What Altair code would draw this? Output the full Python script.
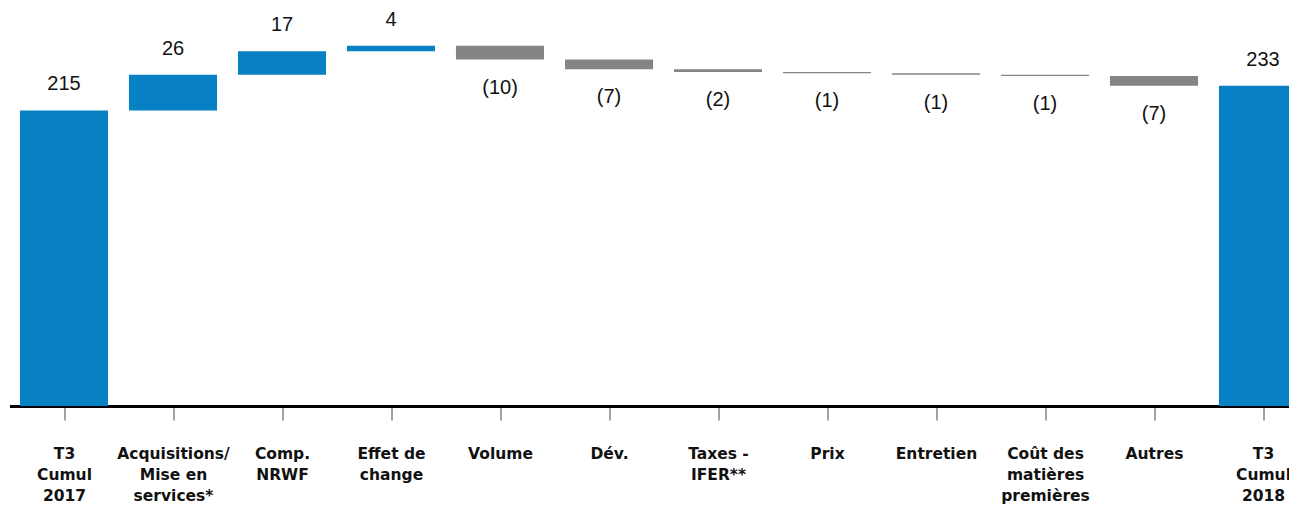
import json
import altair as alt
import pandas as pd

categories = [
    "T3\nCumul\n2017",
    "Acquisitions/\nMise en\nservices*",
    "Comp.\nNRWF",
    "Effet de\nchange",
    "Volume",
    "Dév.",
    "Taxes -\nIFER**",
    "Prix",
    "Entretien",
    "Coût des\nmatières\npremières",
    "Autres",
    "T3\nCumul\n2018",
]
values = [215, 26, 17, 4, -10, -7, -2, -1, -1, -1, -7, 233]
is_total = [True, False, False, False, False, False, False, False, False, False, False, True]

HALF = 0.404  # half bar width in category units

rows = []
running = 0
for i, (cat, v, tot) in enumerate(zip(categories, values, is_total)):
    if tot:
        start, end = 0, v
        running = v
    else:
        start, end = running, running + v
        running = end
    rows.append({
        "idx": i,
        "x0": i - HALF,
        "x1": i + HALF,
        "start": start,
        "end": end,
        "kind": "up" if (tot or v >= 0) else "down",
        "label": str(v) if v >= 0 else f"({-v})",
    })
df = pd.DataFrame(rows)

W = 1279.5
STEP = 109.0
x_scale = alt.Scale(domain=[-0.5, -0.5 + W / STEP], nice=False, zero=False)
y_scale = alt.Scale(domain=[0, 280])

label_expr = "split(" + json.dumps(categories, ensure_ascii=False) + "[datum.value], '\\n')"

x_axis = alt.Axis(
    title=None,
    values=list(range(len(categories))),
    grid=False,
    labelAngle=0,
    labelExpr=label_expr,
    labelFont="DejaVu Sans",
    labelFontWeight="bold",
    labelFontSize=15.5,
    labelLineHeight=21,
    labelColor="#111111",
    labelBaseline="top",
    labelAlign="center",
    labelPadding=26,
    labelLimit=300,
    labelOverlap=False,
    labelFlush=False,
    domainColor="#000000",
    domainWidth=3,
    tickColor="#444444",
    tickWidth=1,
    tickSize=14,
)

base = alt.Chart(df)

bars = base.mark_bar(clip=True).encode(
    x=alt.X("x0:Q", scale=x_scale, axis=x_axis),
    x2="x1:Q",
    y=alt.Y("start:Q", scale=y_scale, axis=None),
    y2="end:Q",
    color=alt.Color(
        "kind:N",
        scale=alt.Scale(domain=["up", "down"], range=["#0781C4", "#858585"]),
        legend=None,
    ),
)

pos_text = base.transform_filter("datum.kind == 'up'").mark_text(
    font="Liberation Sans", fontSize=20, color="#111111", baseline="alphabetic", dy=-20
).encode(
    x=alt.X("idx:Q", scale=x_scale),
    y=alt.Y("end:Q", scale=y_scale),
    text="label:N",
)

neg_text = base.transform_filter("datum.kind == 'down'").mark_text(
    font="Liberation Sans", fontSize=20, color="#111111", baseline="alphabetic", dy=34
).encode(
    x=alt.X("idx:Q", scale=x_scale),
    y=alt.Y("end:Q", scale=y_scale),
    text="label:N",
)

chart = alt.layer(bars, pos_text, neg_text).properties(
    width=W,
    height=385,
    autosize=alt.AutoSizeParams(type="none"),
    padding={"left": 1.5, "top": 13, "right": 0, "bottom": 99},
).configure_view(stroke=None)

chart.save("out.html", embed_options={"renderer": "svg", "actions": False})
